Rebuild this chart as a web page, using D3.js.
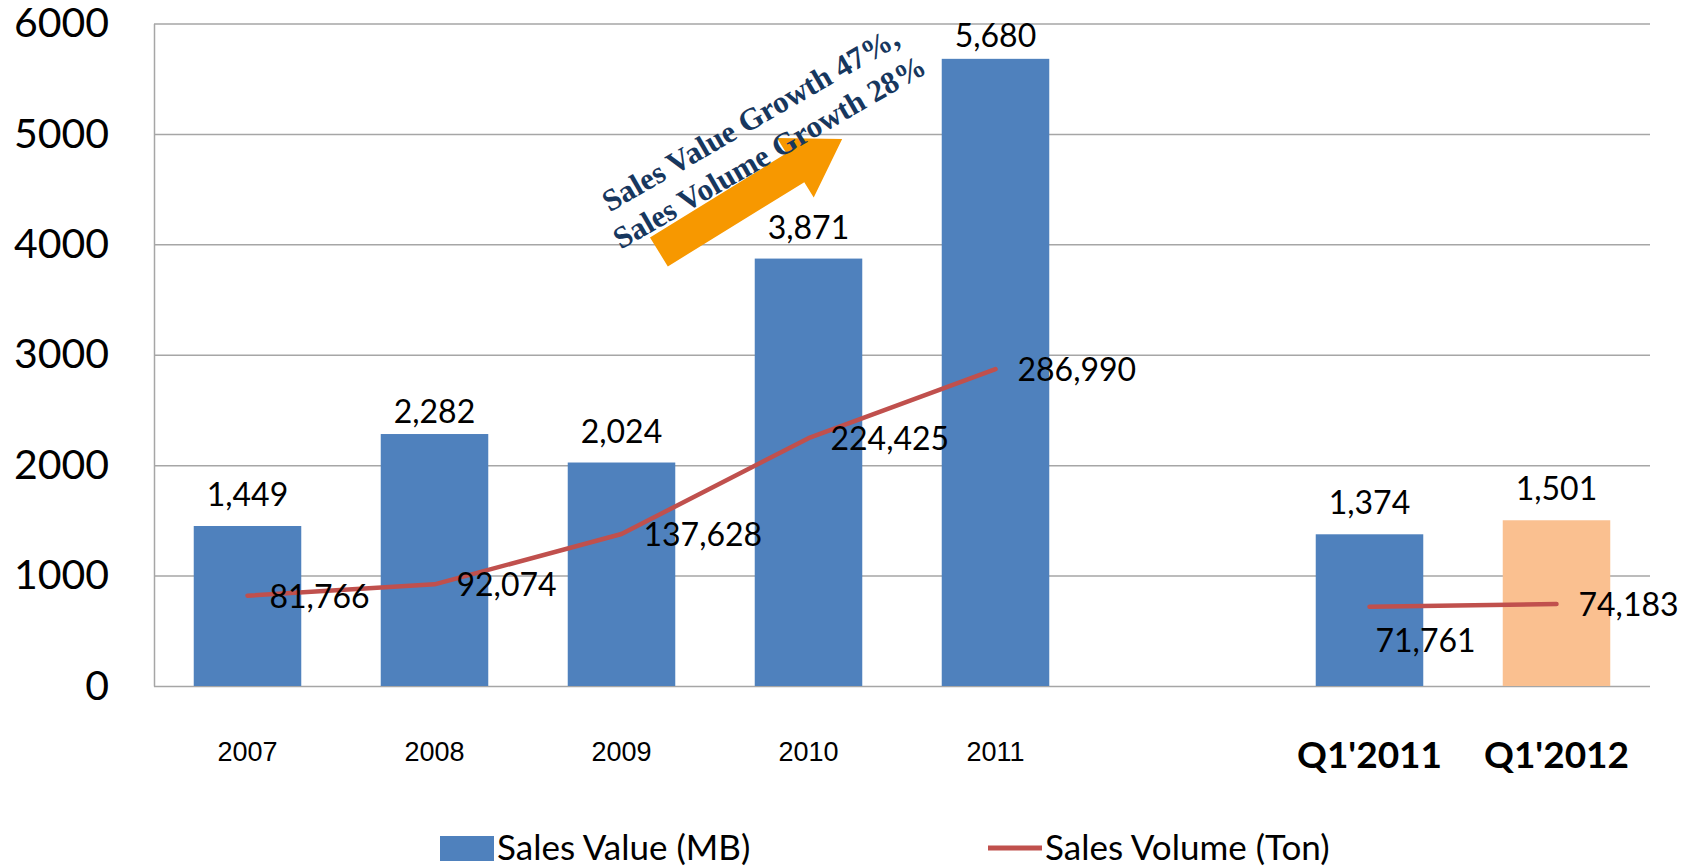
<!DOCTYPE html>
<html>
<head>
<meta charset="utf-8">
<script src="https://cdn.jsdelivr.net/npm/d3@7"></script>
<style>
  html, body { margin: 0; padding: 0; background: #fff; }
  svg { display: block; }
</style>
</head>
<body>
<div id="chart"></div>
<script>
// data
const categories = ['2007', '2008', '2009', '2010', '2011', '', "Q1'2011", "Q1'2012"];
const salesValue = [1449, 2282, 2024, 3871, 5680, null, 1374, 1501];     // MB
const salesVolume = [81766, 92074, 137628, 224425, 286990, null, 71761, 74183]; // Ton
const yTicks = [0, 1000, 2000, 3000, 4000, 5000, 6000];
const legendLabels = ['Sales Value (MB)', 'Sales Volume (Ton)'];
const noteLines = ['Sales Value Growth 47%,', 'Sales Volume Growth 28%'];

const highlightCategory = "Q1'2012";
const volLabelBelow = ["Q1'2011"];
// gap between bar top and its label (a couple were nudged by hand in the original)
const valueLabelGap = [20, 11, 20, 20, 12, 0, 20, 20];

const width = 1702, height = 866;
const plot = { left: 154, right: 1650, top: 23.5, bottom: 686 };

const svg = d3.select('#chart')
  .append('svg')
  .attr('width', width)
  .attr('height', height);

const x = d3.scaleBand()
  .domain(categories)
  .range([plot.left, plot.right])
  .paddingInner(0.425)
  .paddingOuter(0.2125);

const y = d3.scaleLinear().domain([0, 6000]).range([plot.bottom, plot.top]);
// volume is drawn against a hidden axis that is 100x the left one
const y2 = d3.scaleLinear().domain([0, 600000]).range([plot.bottom, plot.top]);

const cx = (c) => x(c) + x.bandwidth() / 2;
const fmt = d3.format(',');

// Y axis + gridlines
const yAxis = svg.append('g')
  .attr('transform', `translate(${plot.left},0)`)
  .call(d3.axisLeft(y)
    .tickValues(yTicks)
    .tickSize(-(plot.right - plot.left))
    .tickSizeOuter(0)
    .tickPadding(45)
    .tickFormat(d3.format('d')));
yAxis.select('.domain').attr('stroke', '#a6a6a6').attr('stroke-width', 1.5);
yAxis.selectAll('.tick line').attr('stroke', '#a6a6a6').attr('stroke-width', 1.5);
yAxis.selectAll('.tick text')
  .attr('fill', '#000')
  .style('font-family', 'Lato, sans-serif')
  .style('font-size', '41px');

// X axis labels
const xAxis = svg.append('g')
  .attr('transform', `translate(0,${plot.bottom})`)
  .call(d3.axisBottom(x).tickSize(0).tickPadding(56));
xAxis.select('.domain').remove();
xAxis.selectAll('.tick text')
  .attr('fill', '#000')
  .each(function (d) {
    const t = d3.select(this);
    if (d.startsWith('Q')) {
      t.style('font-family', 'Lato, sans-serif').style('font-size', '37px').style('font-weight', 'bold');
    } else {
      t.style('font-family', '"Liberation Sans", Arial, sans-serif').style('font-size', '27px');
    }
  });

const rows = categories.map((c, i) => ({ c, v: salesValue[i], vol: salesVolume[i], gap: valueLabelGap[i] }));

// Bars
svg.append('g')
  .selectAll('rect')
  .data(rows.filter((d) => d.v != null))
  .join('rect')
  .attr('x', (d) => x(d.c))
  .attr('y', (d) => y(d.v))
  .attr('width', x.bandwidth())
  .attr('height', (d) => y(0) - y(d.v))
  .attr('fill', (d) => (d.c === highlightCategory ? '#fac090' : '#4f81bd'));

// Bar value labels
svg.append('g')
  .selectAll('text')
  .data(rows.filter((d) => d.v != null))
  .join('text')
  .attr('x', (d) => cx(d.c))
  .attr('y', (d) => y(d.v) - d.gap)
  .attr('text-anchor', 'middle')
  .style('font-family', 'Lato, sans-serif')
  .style('font-size', '32px')
  .attr('fill', '#000')
  .text((d) => fmt(d.v));

// Volume line (breaks on the empty slot)
const line = d3.line()
  .defined((d) => d.vol != null)
  .x((d) => cx(d.c))
  .y((d) => y2(d.vol));

svg.append('path')
  .datum(rows)
  .attr('fill', 'none')
  .attr('stroke', '#c0504d')
  .attr('stroke-width', 4.5)
  .attr('stroke-linejoin', 'round')
  .attr('stroke-linecap', 'round')
  .attr('d', line);

// Volume labels
svg.append('g')
  .selectAll('text')
  .data(rows.filter((d) => d.vol != null))
  .join('text')
  .attr('x', (d) => cx(d.c) + (volLabelBelow.includes(d.c) ? 6 : 22))
  .attr('y', (d) => y2(d.vol) + (volLabelBelow.includes(d.c) ? 45 : 12))
  .style('font-family', 'Lato, sans-serif')
  .style('font-size', '32px')
  .attr('fill', '#000')
  .text((d) => fmt(d.vol));

// Growth arrow annotation, placed in data units
const step = x.step();
const xAt = (pos) => plot.left + (pos + 0.5) * step;
const tail = [xAt(2.2), y(3931)];
const tip = [xAt(3.18), y(4955)];
const ang = Math.atan2(tip[1] - tail[1], tip[0] - tail[0]) * 180 / Math.PI;
const len = Math.hypot(tip[0] - tail[0], tip[1] - tail[1]);
const shaft = 17, head = 35, headLen = 55;

svg.append('path')
  .attr('transform', `translate(${tail[0]},${tail[1]}) rotate(${ang})`)
  .attr('fill', '#f79800')
  .attr('d', d3.line()([
    [0, -shaft], [len - headLen, -shaft], [len - headLen, -head], [len, 0],
    [len - headLen, head], [len - headLen, shaft], [0, shaft]
  ]) + 'Z');

const note = svg.append('g')
  .attr('transform', `translate(${xAt(2.76)},${y(4927)}) rotate(-30)`);
note.selectAll('text')
  .data(noteLines)
  .join('text')
  .attr('x', 0)
  .attr('y', (d, i) => (i - 0.5) * 38 + 3)
  .attr('text-anchor', 'middle')
  .style('font-family', '"Liberation Serif", "Times New Roman", serif')
  .style('font-weight', 'bold')
  .style('font-size', '31px')
  .attr('fill', '#17375e')
  .text((d) => d);

// Legend
const legend = svg.append('g');
legend.append('rect')
  .attr('x', 440).attr('y', 836)
  .attr('width', 54).attr('height', 25)
  .attr('fill', '#4f81bd');
legend.append('text')
  .attr('x', 497).attr('y', 860)
  .style('font-family', 'Lato, sans-serif')
  .style('font-size', '35px')
  .attr('fill', '#000')
  .text(legendLabels[0]);
legend.append('line')
  .attr('x1', 988).attr('x2', 1042)
  .attr('y1', 848).attr('y2', 848)
  .attr('stroke', '#c0504d')
  .attr('stroke-width', 5);
legend.append('text')
  .attr('x', 1045).attr('y', 860)
  .style('font-family', 'Lato, sans-serif')
  .style('font-size', '35px')
  .attr('fill', '#000')
  .text(legendLabels[1]);
</script>
</body>
</html>
